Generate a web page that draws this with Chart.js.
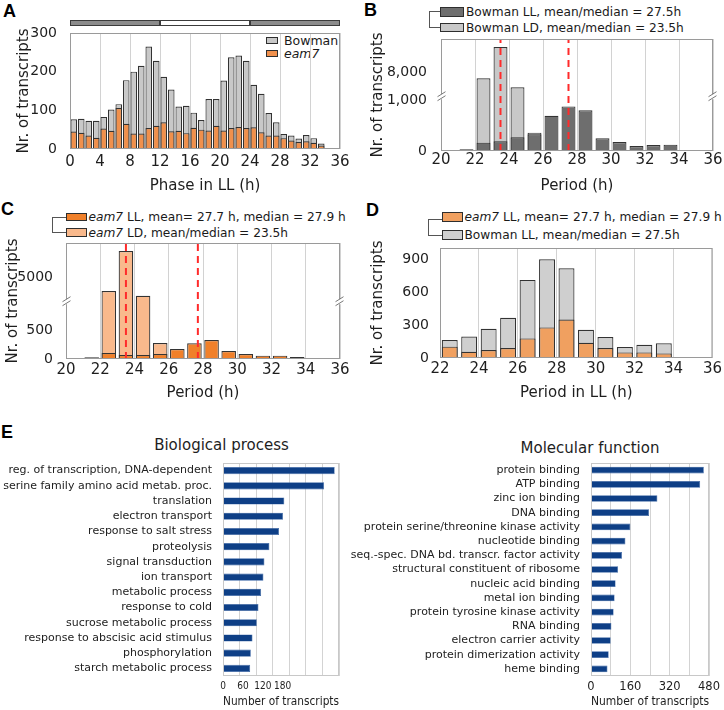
<!DOCTYPE html>
<html>
<head>
  <meta charset="utf-8">
  <title>Rhythmic transcripts</title>
  <script src="https://cdn.jsdelivr.net/npm/chart.js"></script>
  <style>
    body { margin: 0; background: #fff; font-family: 'DejaVu Sans', sans-serif; color: #1e1e1e; }
    #page { position: relative; width: 724px; height: 710px; overflow: hidden; }
    canvas.panel { position: absolute; left: 0; top: 0; }
    .letter { position: absolute; font: bold 18px/18px 'Liberation Sans', Arial, sans-serif; color: #000; }
    .row { position: absolute; display: flex; align-items: center; white-space: nowrap; font-size: 12.2px; color: #1a1a1a; }
    .sw { box-sizing: border-box; border: 1.4px solid #2e2e2e; margin-right: 2px; flex: none; }
    .brk { position: absolute; box-sizing: border-box; border: 1.4px solid #555; border-right: none; }
    .ptitle { position: absolute; font-size: 15px; line-height: 18px; transform: translateX(-50%); white-space: nowrap; }
  </style>
</head>
<body>
<div id="page">
  <div class="letter" style="left:3px;top:2px">A</div>
  <div class="letter" style="left:364px;top:1px">B</div>
  <div class="letter" style="left:1px;top:200px">C</div>
  <div class="letter" style="left:366px;top:201px">D</div>
  <div class="letter" style="left:1px;top:423px">E</div>

  <!-- legend A -->
  <div class="row" style="left:266px;top:33px;height:14px;font-size:12.5px"><span class="sw" style="width:12px;height:7px;background:#c8c8c8"></span>&nbsp;Bowman</div>
  <div class="row" style="left:266px;top:46px;height:14px;font-size:12.5px"><span class="sw" style="width:12px;height:7px;background:#f0904c"></span>&nbsp;<i>eam7</i></div>

  <!-- legend B -->
  <div class="brk" style="left:429px;top:11px;width:11px;height:17px"></div>
  <div class="row" style="left:440px;top:4px;height:16px"><span class="sw" style="width:24px;height:9.5px;background:#6e6e6e"></span>Bowman LL, mean/median = 27.5h</div>
  <div class="row" style="left:440px;top:19.5px;height:16px"><span class="sw" style="width:24px;height:9.5px;background:#c8c8c8"></span>Bowman LD, mean/median = 23.5h</div>

  <!-- legend C -->
  <div class="brk" style="left:52px;top:217px;width:14px;height:16px"></div>
  <div class="row" style="left:65.5px;top:209px;height:16px"><span class="sw" style="width:21px;height:8.5px;background:#f0802a"></span><i>eam7</i>&nbsp;LL, mean= 27.7 h, median = 27.9 h</div>
  <div class="row" style="left:65.5px;top:224.5px;height:16px"><span class="sw" style="width:21px;height:8.5px;background:#f9b98c"></span><i>eam7</i>&nbsp;LD, mean/median = 23.5h</div>

  <!-- legend D -->
  <div class="brk" style="left:428px;top:219px;width:14px;height:17px"></div>
  <div class="row" style="left:441.5px;top:209px;height:16px"><span class="sw" style="width:21px;height:10px;background:#f0a060"></span><i>eam7</i>&nbsp;LL, mean= 27.7 h, median = 27.9 h</div>
  <div class="row" style="left:441.5px;top:227px;height:16px"><span class="sw" style="width:21px;height:10px;background:#cfcfcf"></span>Bowman LL, mean/median = 27.5h</div>

  <div class="ptitle" style="left:221.5px;top:436px">Biological process</div>
  <div class="ptitle" style="left:590px;top:439px">Molecular function</div>
</div>

<script>
  // ---------- data ----------
  // A: phase distribution (bin centres, h)
  const phaseBins = [0.5, 1.5, 2.5, 3.5, 4.5, 5.5, 6.5, 7.5, 8.5, 9.5, 10.5, 11.5, 12.5, 13.5, 14.5, 15.5, 16.5,
    17.5, 18.5, 19.5, 20.5, 21.5, 22.5, 23.5, 24.5, 25.5, 26.5, 27.5, 28.5, 29.5, 30.5, 31.5, 32.5, 33.5, 34.5];
  const aBowman = [77, 78, 73, 73, 83, 102, 116, 178, 200, 215, 265, 228, 187, 154, 110, 112, 94,
    75, 129, 129, 177, 237, 242, 228, 166, 143, 93, 69, 39, 35, 27, 36, 28, 14, 2];
  const aEam7 = [45, 42, 35, 29, 53, 47, 106, 65, 40, 40, 54, 60, 69, 46, 47, 41, 55,
    50, 48, 60, 48, 54, 57, 54, 56, 43, 35, 35, 28, 22, 18, 20, 16, 9, 1];
  const aYTicks = [0, 100, 200, 300];
  const lightRegime = [[0, 12, '#8c8c8c'], [12, 24, '#ffffff'], [24, 36, '#8c8c8c']];

  // B: Bowman periods
  const periodBins = [20.5, 21.5, 22.5, 23.5, 24.5, 25.5, 26.5, 27.5, 28.5, 29.5, 30.5, 31.5, 32.5, 33.5, 34.5];
  const bBowmanLL = [13, 33, 164, 190, 270, 330, 690, 875, 800, 250, 178, 99, 118, 125, 13];
  const bBowmanLD = [0, 0, 7270, 11030, 6180, 360, 0, 0, 0, 0, 0, 0, 0, 0, 0];
  const bMeans = [23.5, 27.5];
  const bYTicks = [0, 1000, 8000];
  const bYLabels = ['0', '1,000', '8,000'];

  // C: eam7 periods
  const cEam7LL = [0, 29, 106, 70, 70, 88, 176, 276, 335, 141, 88, 59, 59, 35, 6];
  const cEam7LD = [0, 0, 3500, 8000, 2970, 282, 0, 0, 0, 0, 0, 0, 0, 0, 0];
  const cMeans = [23.5, 27.7];
  const cYTicks = [0, 500, 5000];
  const cYLabels = ['0', '500', '5000'];

  // D: LL periods, eam7 vs Bowman
  const llBins = [22.5, 23.5, 24.5, 25.5, 26.5, 27.5, 28.5, 29.5, 30.5, 31.5, 32.5, 33.5, 34.5];
  const dBowman = [163, 196, 266, 365, 710, 897, 815, 257, 190, 100, 121, 133, 3];
  const dEam7 = [103, 57, 72, 91, 178, 278, 350, 139, 91, 51, 51, 42, 0];
  const dYTicks = [0, 300, 600, 900];

  // E: GO categories
  const bpTerms = ['reg. of transcription, DNA-dependent', 'serine family amino acid metab. proc.', 'translation',
    'electron transport', 'response to salt stress', 'proteolysis', 'signal transduction', 'ion transport',
    'metabolic process', 'response to cold', 'sucrose metabolic process', 'response to abscisic acid stimulus',
    'phosphorylation', 'starch metabolic process'];
  const bpCounts = [337, 305, 185, 181, 169, 140, 125, 122, 115, 107, 102, 89, 84, 82];
  const bpGrid = [0, 50, 100, 150, 200, 250, 300, 350];
  const bpAxisLabels = [0, 60, 120, 180];

  const mfTerms = ['protein binding', 'ATP binding', 'zinc ion binding', 'DNA binding',
    'protein serine/threonine kinase activity', 'nucleotide binding', 'seq.-spec. DNA bd. transcr. factor activity',
    'structural constituent of ribosome', 'nucleic acid binding', 'metal ion binding',
    'protein tyrosine kinase activity', 'RNA binding', 'electron carrier activity',
    'protein dimerization activity', 'heme binding'];
  const mfCounts = [459, 444, 270, 236, 160, 140, 126, 110, 100, 96, 92, 83, 80, 72, 67];
  const mfGrid = [0, 80, 160, 240, 320, 400, 480];
  const mfAxisLabels = [0, 160, 320, 480];

  // broken y axes (lower part linear, upper part compressed)
  function foldB(v) { return v <= 1000 ? v : 1546 + (v - 8000) * 0.163; }
  function foldC(v) { return v <= 500 ? v : 1435 + (v - 5000) * 0.157; }

  // ---------- helpers ----------
  const W = 724, H = 710;
  Chart.defaults.font.family = "'DejaVu Sans', sans-serif";
  Chart.defaults.color = '#1e1e1e';
  Chart.defaults.animation = false;
  Chart.defaults.plugins.legend.display = false;
  Chart.defaults.plugins.tooltip.enabled = false;

  function newCtx() {
    const c = document.createElement('canvas');
    c.width = W; c.height = H; c.className = 'panel';
    document.getElementById('page').appendChild(c);
    return c.getContext('2d');
  }

  function frame(o) {
    return {
      id: 'frame',
      afterDatasetsDraw(chart) {
        const { ctx, chartArea: a } = chart;
        ctx.save();
        ctx.lineWidth = 1;
        ctx.strokeStyle = o.color || '#9a9a9a';
        ctx.strokeRect(a.left + 0.5, a.top + 0.5, a.right - a.left - 1, a.bottom - a.top - 1);
        if (o.breakAt !== undefined) {
          const y = chart.scales.y.getPixelForValue(o.breakAt);
          [a.left + 0.5, a.right - 0.5].forEach(x => {
            ctx.fillStyle = '#fff';
            ctx.fillRect(x - 2, y - 2.5, 4, 5);
            ctx.strokeStyle = '#777';
            ctx.beginPath();
            ctx.moveTo(x - 4, y); ctx.lineTo(x + 4, y - 5);
            ctx.moveTo(x - 4, y + 4); ctx.lineTo(x + 4, y - 1);
            ctx.stroke();
          });
        }
        if (o.dayBar) {
          const xs = chart.scales.x;
          o.dayBar.forEach(seg => {
            const x0 = xs.getPixelForValue(seg[0]), x1 = xs.getPixelForValue(seg[1]);
            ctx.fillStyle = seg[2];
            ctx.fillRect(x0, 20.5, x1 - x0, 5);
            ctx.strokeStyle = '#3c3c3c';
            ctx.strokeRect(x0 + 0.5, 20.5, x1 - x0 - 1, 5);
          });
        }
        ctx.restore();
      }
    };
  }

  function bars(xs, ys, fill, order, pct, f) {
    return {
      type: 'bar',
      data: xs.map((x, i) => ({ x: x, y: f ? f(ys[i]) : ys[i] })),
      backgroundColor: fill, borderColor: '#333', borderWidth: 1.2,
      grouped: false, categoryPercentage: 1, barPercentage: pct, order: order
    };
  }

  function meanLine(x, top) {
    return {
      type: 'line', data: [{ x: x, y: 0 }, { x: x, y: top }],
      borderColor: '#ff2b2b', borderWidth: 2, borderDash: [7, 5], pointRadius: 0, order: 0
    };
  }

  function histogram(o) {
    return new Chart(newCtx(), {
      type: 'bar',
      data: { datasets: o.datasets },
      options: {
        responsive: false,
        layout: { padding: { left: o.l - o.yW, top: o.t, right: W - o.r, bottom: H - o.b - o.xH } },
        scales: {
          x: {
            type: 'linear', min: o.xMin, max: 36, offset: false,
            ticks: { stepSize: o.xStep, padding: o.xPad, font: { size: 15 }, maxRotation: 0 },
            grid: { color: '#d2d2d2', drawTicks: false, offset: false },
            border: { display: false },
            title: { display: true, text: o.xTitle, font: { size: 15 }, padding: { top: 0, bottom: 0 } },
            afterFit: s => { s.height = o.xH; }
          },
          y: {
            type: 'linear', min: 0, max: o.yMax,
            afterBuildTicks: s => { s.ticks = o.yTicks.map(v => ({ value: v })); },
            ticks: { padding: o.yPad, font: { size: 14 }, callback: (v, i) => o.yLabels[i] },
            grid: { display: false },
            border: { display: false },
            title: { display: true, text: 'Nr. of transcripts', font: { size: 15 }, padding: { top: o.yTitlePad, bottom: 0 } },
            afterFit: s => { s.width = o.yW; }
          }
        }
      },
      plugins: [frame(o.frame || {})]
    });
  }

  function goChart(o) {
    const ticks = o.grid.concat(o.axisLabels.filter(v => o.grid.indexOf(v) < 0)).sort((a, b) => a - b);
    return new Chart(newCtx(), {
      type: 'bar',
      data: {
        labels: o.terms,
        datasets: [{ data: o.counts, backgroundColor: '#0e3f86', borderColor: '#3a66a6', borderWidth: 0.6,
          categoryPercentage: 1, barPercentage: 0.47 }]
      },
      options: {
        indexAxis: 'y',
        responsive: false,
        layout: { padding: { left: 0, top: o.t, right: W - o.r, bottom: H - o.b - 33 } },
        scales: {
          x: {
            type: 'linear', min: 0, max: o.max,
            afterBuildTicks: s => { s.ticks = ticks.map(v => ({ value: v })); },
            ticks: { autoSkip: false, maxRotation: 0, padding: 4, font: o.tickFont,
              callback: v => o.axisLabels.indexOf(v) >= 0 ? String(v) : '' },
            grid: { drawTicks: false, color: c => o.grid.indexOf(c.tick.value) >= 0 ? '#d3d3d3' : 'rgba(0,0,0,0)' },
            border: { display: false },
            title: { display: true, text: 'Number of transcripts', font: { size: 12.3 }, padding: { top: 0, bottom: 0 } },
            afterFit: s => { s.height = 33; }
          },
          y: {
            ticks: { autoSkip: false, padding: 3, font: { size: 11 }, color: '#222' },
            grid: { display: false },
            border: { display: false },
            afterFit: s => { s.width = o.l; }
          }
        }
      },
      plugins: [frame({ color: '#c8c8c8' })]
    });
  }

  // ---------- panels ----------
  histogram({
    l: 70, t: 33, r: 340, b: 149, yW: 70, xH: 46, yTitlePad: 15, yPad: 5, xPad: 4,
    xMin: 0, xStep: 4, xTitle: 'Phase in LL (h)', yMax: 300, yTicks: aYTicks, yLabels: aYTicks.map(String),
    datasets: [
      bars(phaseBins, aEam7, '#f0904c', 1, 0.88),
      bars(phaseBins, aBowman, '#c8c8c8', 2, 0.88)
    ],
    frame: { dayBar: lightRegime }
  });

  histogram({
    l: 441, t: 39, r: 713, b: 151, yW: 81, xH: 44, yTitlePad: 9, yPad: 6, xPad: 0,
    xMin: 20, xStep: 2, xTitle: 'Period (h)', yMax: 2197, yTicks: bYTicks.map(foldB), yLabels: bYLabels,
    datasets: bMeans.map(m => meanLine(m, 2197)).concat([
      bars(periodBins, bBowmanLL, '#6e6e6e', 1, 0.82, foldB),
      bars(periodBins, bBowmanLD, '#c8c8c8', 2, 0.82, foldB)
    ]),
    frame: { breakAt: 1065 }
  });

  histogram({
    l: 66, t: 243, r: 340, b: 359, yW: 66, xH: 43, yTitlePad: 4, yPad: 5, xPad: 2,
    xMin: 20, xStep: 2, xTitle: 'Period (h)', yMax: 2047, yTicks: cYTicks.map(foldC), yLabels: cYLabels,
    datasets: cMeans.map(m => meanLine(m, 2047)).concat([
      bars(periodBins, cEam7LL, '#f0802a', 1, 0.85, foldC),
      bars(periodBins, cEam7LD, '#f9b98c', 2, 0.85, foldC)
    ]),
    frame: { breakAt: 1011 }
  });

  histogram({
    l: 440, t: 248, r: 713, b: 358, yW: 80, xH: 44, yTitlePad: 9, yPad: 3, xPad: 2,
    xMin: 22, xStep: 2, xTitle: 'Period in LL (h)', yMax: 1000, yTicks: dYTicks, yLabels: dYTicks.map(String),
    datasets: [
      bars(llBins, dEam7, '#f0a060', 1, 0.82),
      bars(llBins, dBowman, '#cfcfcf', 2, 0.82)
    ]
  });

  goChart({ l: 223, t: 463, r: 339, b: 676, max: 350,
    tickFont: { size: 10, family: "'DejaVu Sans Condensed', 'Liberation Sans Narrow', 'DejaVu Sans', sans-serif" },
    terms: bpTerms, counts: bpCounts, grid: bpGrid, axisLabels: bpAxisLabels });
  goChart({ l: 591, t: 463, r: 710, b: 676, max: 480,
    tickFont: { size: 11.5 },
    terms: mfTerms, counts: mfCounts, grid: mfGrid, axisLabels: mfAxisLabels });
</script>
</body>
</html>
